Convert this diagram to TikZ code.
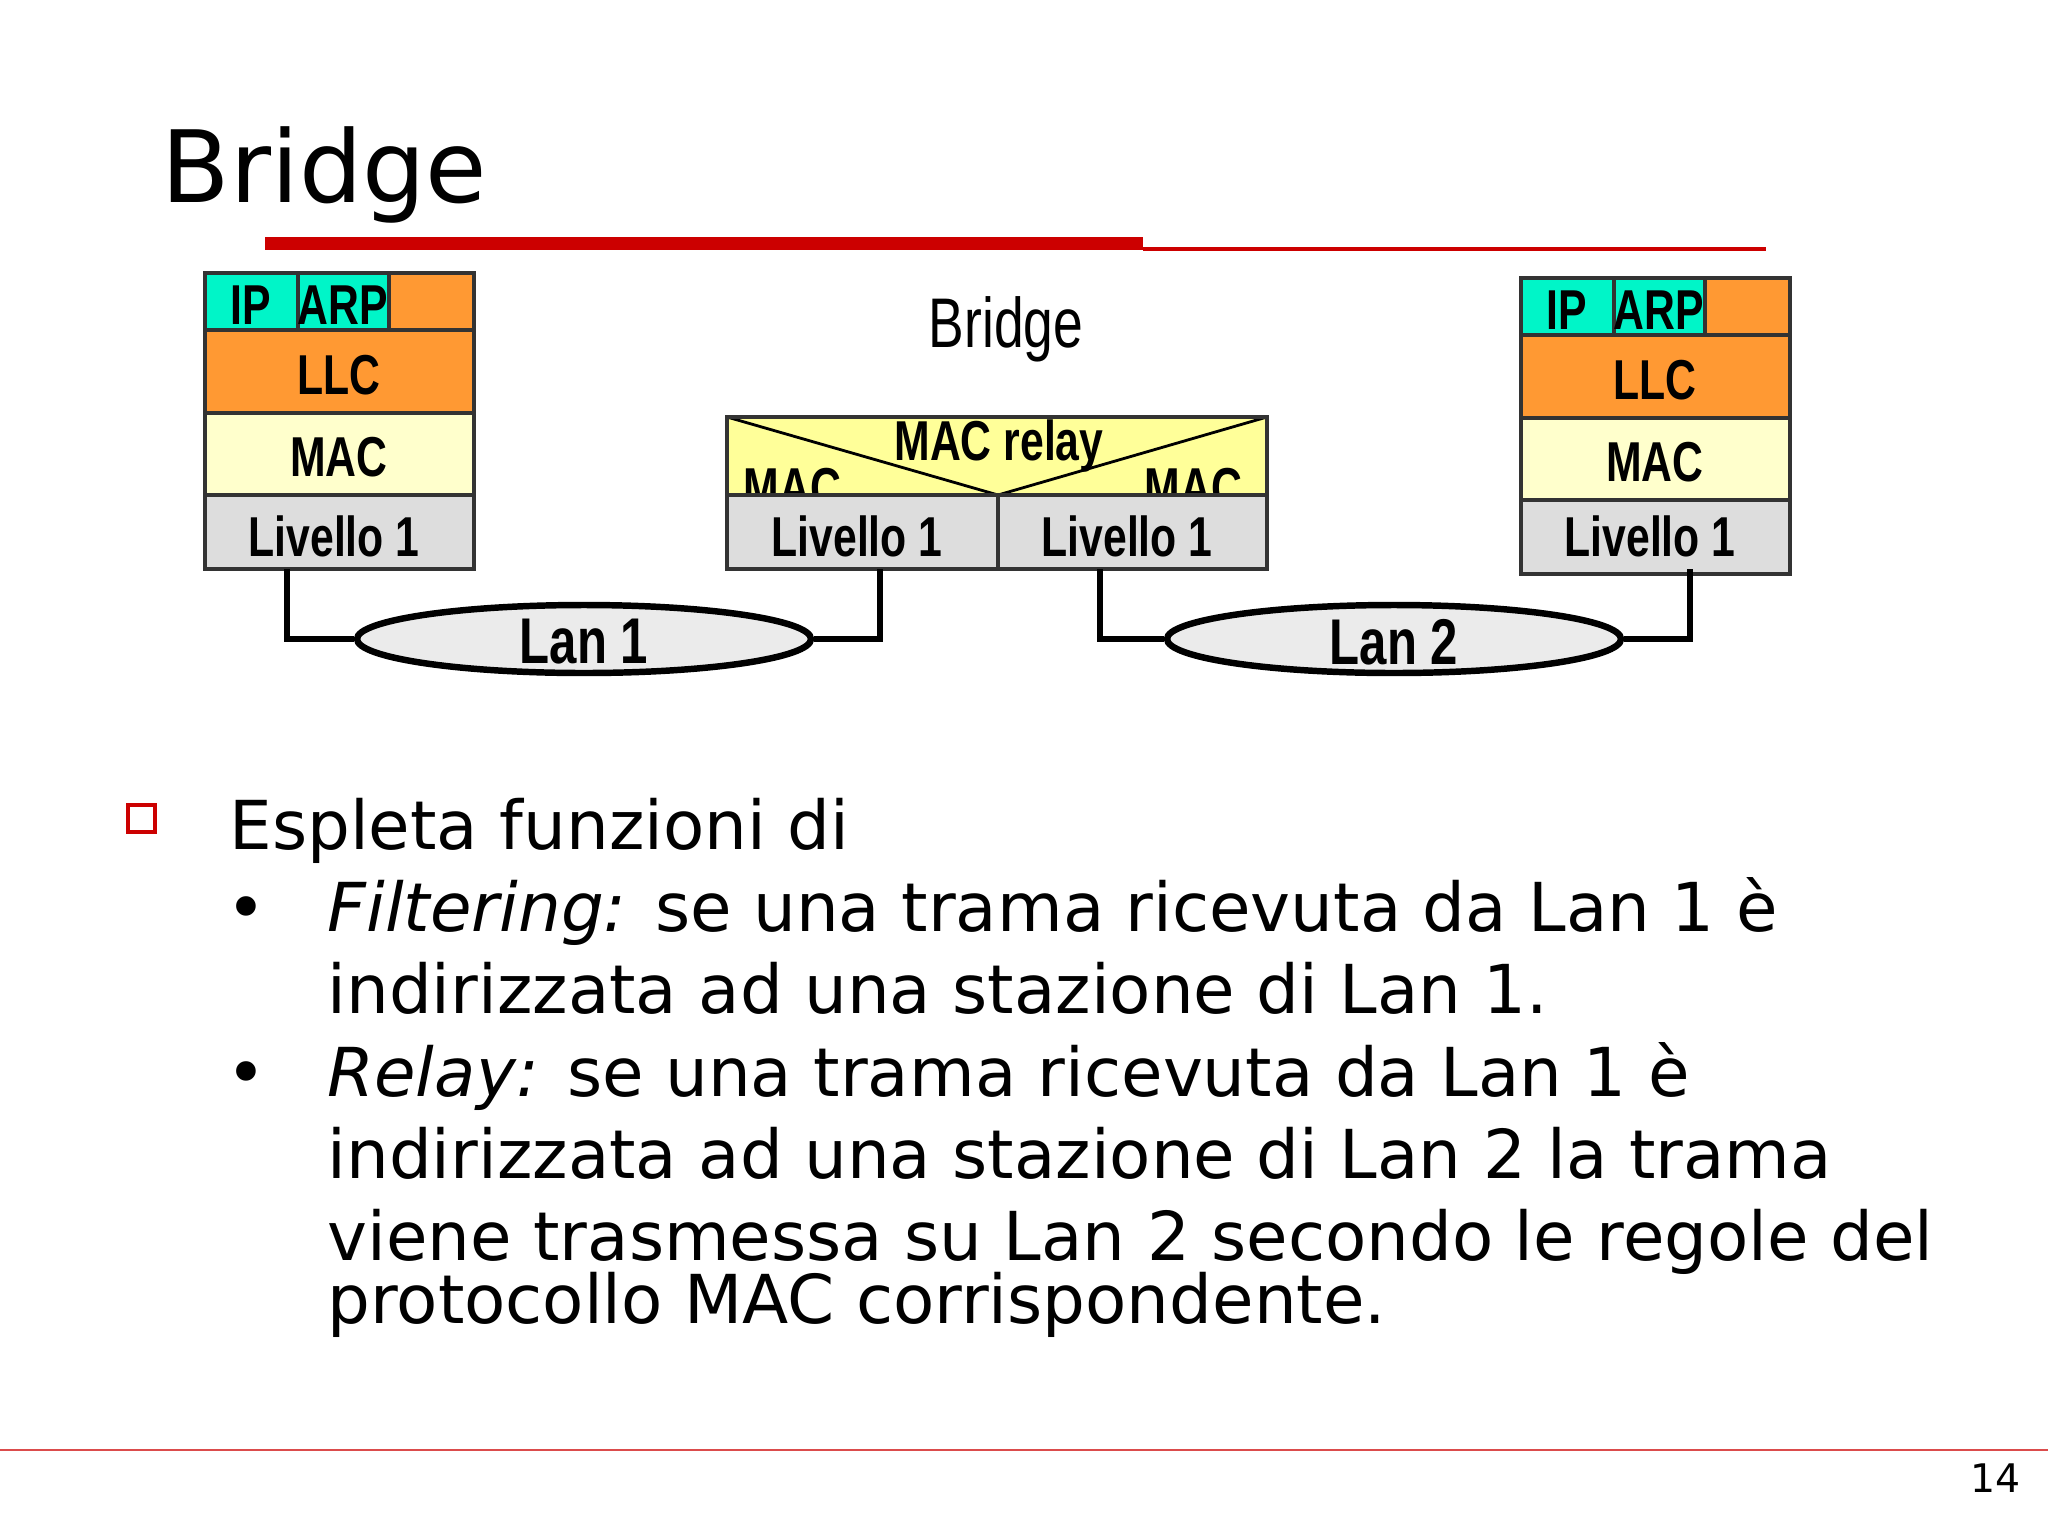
\documentclass[tikz,border=0pt]{standalone}
\usepackage{fontspec}
\setmainfont{DejaVu Sans}
\newfontfamily\narrow[FakeStretch=0.76]{Liberation Sans}
\definecolor{cy}{HTML}{00F5C8}
\definecolor{org}{HTML}{FF9933}
\definecolor{ly}{HTML}{FFFFCC}
\definecolor{by}{HTML}{FFFF99}
\definecolor{gr}{HTML}{DDDDDD}
\definecolor{rd}{HTML}{CC0000}
\tikzset{cell/.style={draw=black!80,line width=1.5pt},
 lbl/.style={font=\narrow\bfseries\fontsize{20}{22}\selectfont},
 wire/.style={line width=2.3pt},
 lan/.style={draw,line width=2.3pt,fill=gr!60,ellipse,minimum width=454\unit,minimum height=68\unit}}
\usetikzlibrary{shapes.geometric}
\newlength\unit \setlength\unit{0.125mm}
\begin{document}
\begin{tikzpicture}[x=0.125mm,y=-0.125mm]
\useasboundingbox (0,0) rectangle (2048,1536);
\node[anchor=base west,font=\fontsize{35.5}{40}\selectfont] (title) at (152,202) {Bridge};
\draw[rd,line width=13\unit] (265,243) -- (1143,243);
\draw[rd,line width=1.5pt] (1143,249) -- (1766,249);
\foreach \x/\dy/\n in {205/0/L,1521/5/R}{
 \begin{scope}[yshift=-\dy*0.125mm]
 \path[cell,fill=cy] (\x,273) rectangle ++(93,57);
 \path[cell,fill=cy] (\x+93,273) rectangle ++(91,57);
 \path[cell,fill=org] (\x+184,273) rectangle ++(85,57);
 \path[cell,fill=org] (\x,330) rectangle ++(269,83);
 \path[cell,fill=ly] (\x,413) rectangle ++(269,82);
 \path[cell,fill=gr] (\x,495) rectangle ++(269,74);
 \node[lbl] (ip\n) at (\x+46,305) {IP};
 \node[lbl] (arp\n) at (\x+138,305) {ARP};
 \node[lbl] (llc\n) at (\x+134,375) {LLC};
 \node[lbl] (mac\n) at (\x+134,457) {MAC};
 \end{scope}
}
\node[lbl] (livL) at (334,536) {Livello 1};
\node[lbl] (livR) at (1650,536) {Livello 1};
\node[font=\narrow\fontsize{25}{28}\selectfont] (br) at (1006,329) {Bridge};
\path[fill=by] (727,417) rectangle (1267,495);
\begin{scope}
\clip (727,417) rectangle (1267,495);
\node[lbl,anchor=base west] (m1) at (734,507) {MAC};
\node[lbl,anchor=base east] (m2) at (1252,507) {MAC};
\end{scope}
\draw[line width=1pt] (727,417) -- (998,495) -- (1267,417);
\draw[cell] (727,495) -- (727,417) -- (1267,417) -- (1267,495);
\node[lbl] (relay) at (999,446) {MAC relay};
\path[cell,fill=gr] (727,495) rectangle (998,569);
\path[cell,fill=gr] (998,495) rectangle (1267,569);
\node[lbl] (lb1) at (857,536) {Livello 1};
\node[lbl] (lb2) at (1127,536) {Livello 1};
\node[lan] (lan1) at (584,639) {};
\node[lan] (lan2) at (1394,639) {};
\node[font=\narrow\bfseries\fontsize{23}{26}\selectfont] at (584,642) {Lan 1};
\node[font=\narrow\bfseries\fontsize{23}{26}\selectfont] at (1394,642) {Lan 2};
\draw[wire] (287,569) |- (lan1.west);
\draw[wire] (880,569) |- (lan1.east);
\draw[wire] (1100,569) |- (lan2.west);
\draw[wire] (1690,569) |- (lan2.east);
\draw[rd,line width=1.5pt] (128,805) rectangle ++(27,27);
\begin{scope}[every node/.style={anchor=base west,inner sep=0,font=\fontsize{24}{28}\selectfont}]
\node (t0) at (229,849) {Espleta funzioni di};
\node (b1) at (226,931) {•};
\node (t1) at (327,931) {\textit{Filtering:} se una trama ricevuta da Lan 1 è};
\node (t2) at (327,1013) {indirizzata ad una stazione di Lan 1.};
\node (b2) at (226,1096) {•};
\node (t3) at (327,1096) {\textit{Relay:} se una trama ricevuta da Lan 1 è};
\node (t4) at (327,1178) {indirizzata ad una stazione di Lan 2 la trama};
\node (t5) at (327,1260) {viene trasmessa su Lan 2 secondo le regole del};
\node (t6) at (327,1323) {protocollo MAC corrispondente.};
\end{scope}
\draw[rd!70,line width=0.8pt] (0,1450) -- (2048,1450);
\node[anchor=base east,font=\fontsize{14}{16}\selectfont] (pg) at (2030,1492) {14};
\end{tikzpicture}
\end{document}
